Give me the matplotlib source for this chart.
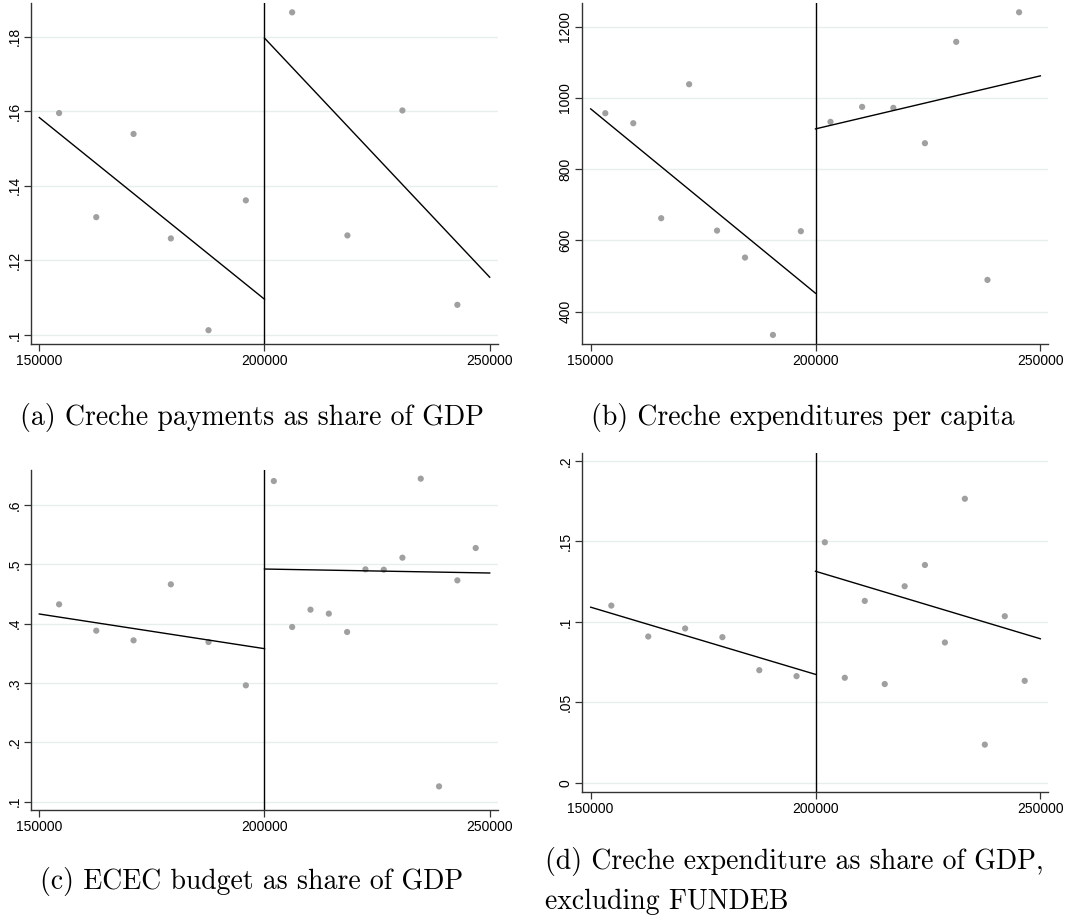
import matplotlib
matplotlib.use("Agg")
import matplotlib.pyplot as plt

CUTOFF = 200000

# (a) Creche payments as share of GDP
a_x_left = [154400, 162650, 170930, 179210, 187570, 195860]
a_y_left = [0.1595, 0.1316, 0.1539, 0.1259, 0.1013, 0.1361]
a_x_right = [206140, 218410, 230620, 242820]
a_y_right = [0.1865, 0.1267, 0.1602, 0.1081]
a_fit_left = [0.1583, 0.1096]
a_fit_right = [0.1796, 0.1155]

# (b) Creche expenditures per capita
b_x_left = [153250, 159470, 165680, 171890, 178100, 184320, 190530, 196740]
b_y_left = [956.7, 928.6, 662.0, 1038.0, 627.3, 551.6, 334.5, 625.5]
b_x_right = [203330, 210360, 217310, 224330, 231290, 238240, 245270]
b_y_right = [932.4, 974.5, 971.7, 872.5, 1157.0, 488.9, 1240.0]
b_fit_left = [968.9, 451.4]
b_fit_right = [912.7, 1061.5]

# (c) ECEC budget as share of GDP
c_x_left = [154400, 162650, 170930, 179210, 187570, 195860]
c_y_left = [0.4326, 0.3882, 0.3719, 0.4663, 0.3691, 0.2961]
c_x_right = [202070, 206140, 210210, 214280, 218340, 222410,
             226480, 230620, 234690, 238750, 242820, 246890]
c_y_right = [0.6404, 0.3944, 0.4236, 0.4169, 0.3860, 0.4916,
             0.4910, 0.5112, 0.6444, 0.1258, 0.4730, 0.5275]
c_fit_left = [0.4163, 0.3579]
c_fit_right = [0.4921, 0.4854]

# (d) Creche expenditure as share of GDP, excluding FUNDEB
d_x_left = [154590, 162800, 171010, 179290, 187500, 195780]
d_y_left = [0.1101, 0.0909, 0.0959, 0.0905, 0.0700, 0.0663]
d_x_right = [202070, 206510, 210950, 215390, 219820, 224330,
             228770, 233210, 237650, 242090, 246520]
d_y_right = [0.1494, 0.0653, 0.1130, 0.0614, 0.1221, 0.1353,
             0.0872, 0.1764, 0.0238, 0.1035, 0.0634]
d_fit_left = [0.1091, 0.0674]
d_fit_right = [0.1314, 0.0895]

x_ticks = [150000, 200000, 250000]
a_ticks = [0.10, 0.12, 0.14, 0.16, 0.18]
a_labels = [".1", ".12", ".14", ".16", ".18"]
b_ticks = [400, 600, 800, 1000, 1200]
b_labels = ["400", "600", "800", "1000", "1200"]
c_ticks = [0.1, 0.2, 0.3, 0.4, 0.5, 0.6]
c_labels = [".1", ".2", ".3", ".4", ".5", ".6"]
d_ticks = [0.0, 0.05, 0.10, 0.15, 0.20]
d_labels = ["0", ".05", ".1", ".15", ".2"]

GRID = "#e6eeee"
DOT = "#a0a0a0"
SPINE = "#333333"
TICK_FONT = ["Liberation Sans", "DejaVu Sans"]


def rd_panel(ax, xl, yl, xr, yr, fit_l, fit_r, yticks, ylabels, xlim, ylim):
    ax.set_xlim(*xlim)
    ax.set_ylim(*ylim)
    for t in yticks:
        ax.axhline(t, color=GRID, lw=1.0, zorder=0)
    ax.scatter(xl, yl, s=20, color=DOT, edgecolors="none", zorder=3)
    ax.scatter(xr, yr, s=20, color=DOT, edgecolors="none", zorder=3)
    ax.plot([x_ticks[0], CUTOFF], fit_l, color="black", lw=1.0, zorder=4)
    ax.plot([CUTOFF, x_ticks[-1]], fit_r, color="black", lw=1.0, zorder=4)
    ax.axvline(CUTOFF, color="black", lw=1.0, zorder=2)

    for side in ["top", "right"]:
        ax.spines[side].set_visible(False)
    for side in ["left", "bottom"]:
        ax.spines[side].set_color(SPINE)
        ax.spines[side].set_linewidth(1.0)

    ax.set_xticks(x_ticks)
    ax.set_xticklabels([str(t) for t in x_ticks])
    ax.set_yticks(yticks)
    ax.set_yticklabels(ylabels, rotation=90, va="center")
    ax.tick_params(axis="both", colors=SPINE, labelcolor="black",
                   labelsize=10, length=5, width=0.9, pad=2)
    for lab in ax.get_xticklabels() + ax.get_yticklabels():
        lab.set_fontfamily(TICK_FONT)


fig = plt.figure(figsize=(10.91, 9.17), dpi=100)

ax_a = fig.add_axes([0.02841, 0.62486, 0.42805, 0.37187])
ax_b = fig.add_axes([0.53346, 0.62486, 0.42713, 0.37187])
ax_c = fig.add_axes([0.02841, 0.11669, 0.42805, 0.37077])
ax_d = fig.add_axes([0.53346, 0.13631, 0.42713, 0.36969])

rd_panel(ax_a, a_x_left, a_y_left, a_x_right, a_y_right, a_fit_left, a_fit_right,
         a_ticks, a_labels, (148160, 251840), (0.0976, 0.1890))
rd_panel(ax_b, b_x_left, b_y_left, b_x_right, b_y_right, b_fit_left, b_fit_right,
         b_ticks, b_labels, (148070, 251700), (309, 1266))
rd_panel(ax_c, c_x_left, c_y_left, c_x_right, c_y_right, c_fit_left, c_fit_right,
         c_ticks, c_labels, (148160, 251840), (0.086, 0.659))
rd_panel(ax_d, d_x_left, d_y_left, d_x_right, d_y_right, d_fit_left, d_fit_right,
         d_ticks, d_labels, (148070, 251700), (-0.0056, 0.2048))

# subfigure captions
cap = dict(family="cmr10", fontsize=20, color="black")
fig.text(252 / 1091, 1 - 417 / 917, "(a) Creche payments as share of GDP",
         ha="center", va="center", **cap)
fig.text(803 / 1091, 1 - 417 / 917, "(b) Creche expenditures per capita",
         ha="center", va="center", **cap)
fig.text(252 / 1091, 1 - 882 / 917, "(c) ECEC budget as share of GDP",
         ha="center", va="center", **cap)
fig.text(545 / 1091, 1 - 862 / 917, "(d) Creche expenditure as share of GDP,",
         ha="left", va="center", **cap)
fig.text(545 / 1091, 1 - 902 / 917, "excluding FUNDEB",
         ha="left", va="center", **cap)

fig.savefig("out.png", dpi=100)
